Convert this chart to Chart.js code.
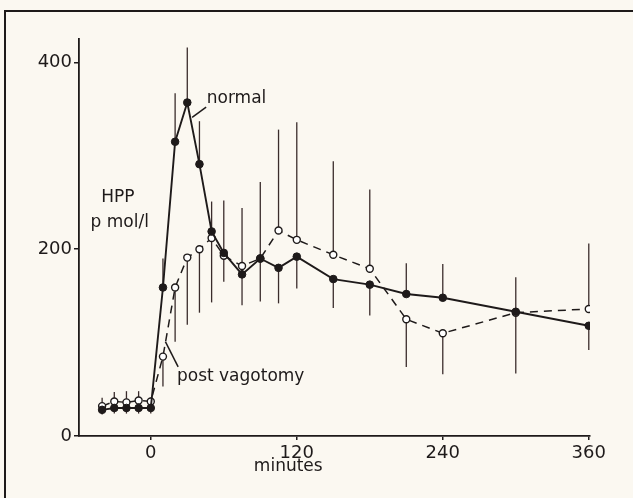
<!DOCTYPE html>
<html lang="en">
<head>
  <meta charset="UTF-8">
  <title>HPP after meal</title>
  <script src="https://cdn.jsdelivr.net/npm/chart.js"></script>
  <style>
    body {
      margin: 0;
      background: #fbf8f1;
    }
    canvas {
      display: block;
    }
  </style>
</head>
<body>
  <canvas id="hppChart" width="633" height="498"></canvas>

  <script>
    // minutes
    const times = [-40, -30, -20, -10, 0, 10, 20, 30, 40, 50, 60, 75, 90, 105, 120, 150, 180, 210, 240, 300, 360];
    // HPP pmol/l
    const normal = [28, 30, 30, 30, 30, 159, 315, 357, 291, 219, 196, 173, 190, 180, 192, 168, 162, 152, 148, 133, 118];
    const postVag = [32, 37, 36, 38, 37, 85, 159, 191, 200, 212, 193, 182, 190, 220, 210, 194, 179, 125, 110, 132, 136];
    // error bar ends (null = no bar on that side)
    const normalHi = [null, null, null, null, null, 190, 367, 416, 337, 251, 252, 244, 272, null, null, null, null, 185, 184, 170, null];
    const normalLo = [23, 24, 24, 24, 24, null, null, null, null, null, null, null, null, 142, 158, 137, 129, null, null, null, 92];
    const postHi = [41, 47, 48, 48, 41, null, null, null, null, null, null, null, null, 328, 336, 294, 264, null, null, null, 206];
    const postLo = [null, null, null, null, null, 53, 101, 119, 132, 143, 165, 140, 144, null, null, null, null, 74, 66, 67, null];
    const xTicks = [0, 120, 240, 360];
    const yTicks = [0, 200, 400];

    const ink = '#1e1a1a';
    Chart.defaults.font.family = "'DejaVu Sans', sans-serif";
    Chart.defaults.font.size = 18;
    Chart.defaults.color = ink;

    const paper = {
      id: 'paper',
      beforeDraw(chart) {
        const c = chart.ctx;
        c.save();
        c.fillStyle = '#fbf8f1';
        c.fillRect(0, 0, chart.width, chart.height);
        // frame of the figure (left and top only are in the picture)
        c.strokeStyle = ink;
        c.lineWidth = 2;
        c.beginPath();
        c.moveTo(5, chart.height);
        c.lineTo(5, 11);
        c.lineTo(chart.width, 11);
        c.stroke();
        c.restore();
      }
    };

    const errorBars = {
      id: 'errorBars',
      beforeDatasetsDraw(chart) {
        const c = chart.ctx;
        const x = chart.scales.x, y = chart.scales.y;
        c.save();
        c.strokeStyle = '#3a2c2c';
        c.lineWidth = 1.3;
        const bar = (vals, ends) => {
          ends.forEach((e, i) => {
            if (e === null) return;
            const px = x.getPixelForValue(times[i]);
            c.beginPath();
            c.moveTo(px, y.getPixelForValue(vals[i]));
            c.lineTo(px, y.getPixelForValue(e));
            c.stroke();
          });
        };
        bar(normal, normalHi);
        bar(normal, normalLo);
        bar(postVag, postHi);
        bar(postVag, postLo);
        c.restore();
      }
    };

    const labels = {
      id: 'labels',
      afterDraw(chart) {
        const c = chart.ctx;
        const x = chart.scales.x, y = chart.scales.y;
        const X = v => x.getPixelForValue(v), Y = v => y.getPixelForValue(v);
        c.save();
        c.fillStyle = ink;
        c.strokeStyle = ink;
        c.lineWidth = 1.5;
        c.font = "17px 'DejaVu Sans'";
        c.textBaseline = 'alphabetic';
        c.textAlign = 'left';
        c.fillText('normal', X(46), Y(356));
        c.beginPath();
        c.moveTo(X(34), Y(341));
        c.lineTo(X(45.5), Y(352));
        c.stroke();

        c.textBaseline = 'middle';
        c.fillText('post vagotomy', X(21.5), Y(64));
        c.beginPath();
        c.moveTo(X(12), Y(101));
        c.lineTo(X(22.5), Y(74));
        c.stroke();

        c.textAlign = 'center';
        c.fillText('HPP', X(-27), Y(255));
        c.fillText('p mol/l', X(-25.5), Y(229));
        c.fillText('minutes', X(113), chart.chartArea.bottom + 31);
        c.restore();
      }
    };

    new Chart(document.getElementById('hppChart'), {
      type: 'line',
      data: {
        datasets: [
          {
            label: 'normal',
            data: times.map((t, i) => ({ x: t, y: normal[i] })),
            borderColor: ink,
            borderWidth: 1.9,
            pointRadius: 3.8,
            pointBackgroundColor: ink,
            pointBorderColor: ink,
            pointBorderWidth: 1,
            tension: 0
          },
          {
            label: 'post vagotomy',
            data: times.map((t, i) => ({ x: t, y: postVag[i] })),
            borderColor: ink,
            borderWidth: 1.5,
            borderDash: [8, 6],
            pointRadius: 3.5,
            pointBackgroundColor: '#ffffff',
            pointBorderColor: ink,
            pointBorderWidth: 1.4,
            tension: 0
          }
        ]
      },
      options: {
        responsive: false,
        animation: false,
        layout: { padding: { top: 39, right: 43, left: 0, bottom: 0 } },
        plugins: {
          legend: { display: false },
          tooltip: { enabled: false }
        },
        scales: {
          x: {
            type: 'linear',
            min: -59,
            max: 361,
            afterBuildTicks: s => { s.ticks = xTicks.map(v => ({ value: v })); },
            afterFit: s => { s.height = 62; },
            grid: { drawOnChartArea: false, drawTicks: true, tickLength: 4, tickColor: ink, lineWidth: 1.5 },
            border: { color: ink, width: 1.8 },
            ticks: { padding: 3, color: ink, maxRotation: 0 }
          },
          y: {
            min: 0,
            max: 425,
            afterBuildTicks: s => { s.ticks = yTicks.map(v => ({ value: v })); },
            afterFit: s => { s.width = 79; },
            grid: { drawOnChartArea: false, drawTicks: true, tickLength: 5, tickColor: ink, lineWidth: 1.5 },
            border: { color: ink, width: 1.8 },
            ticks: { padding: 2, color: ink }
          }
        }
      },
      plugins: [paper, errorBars, labels]
    });
  </script>
</body>
</html>
